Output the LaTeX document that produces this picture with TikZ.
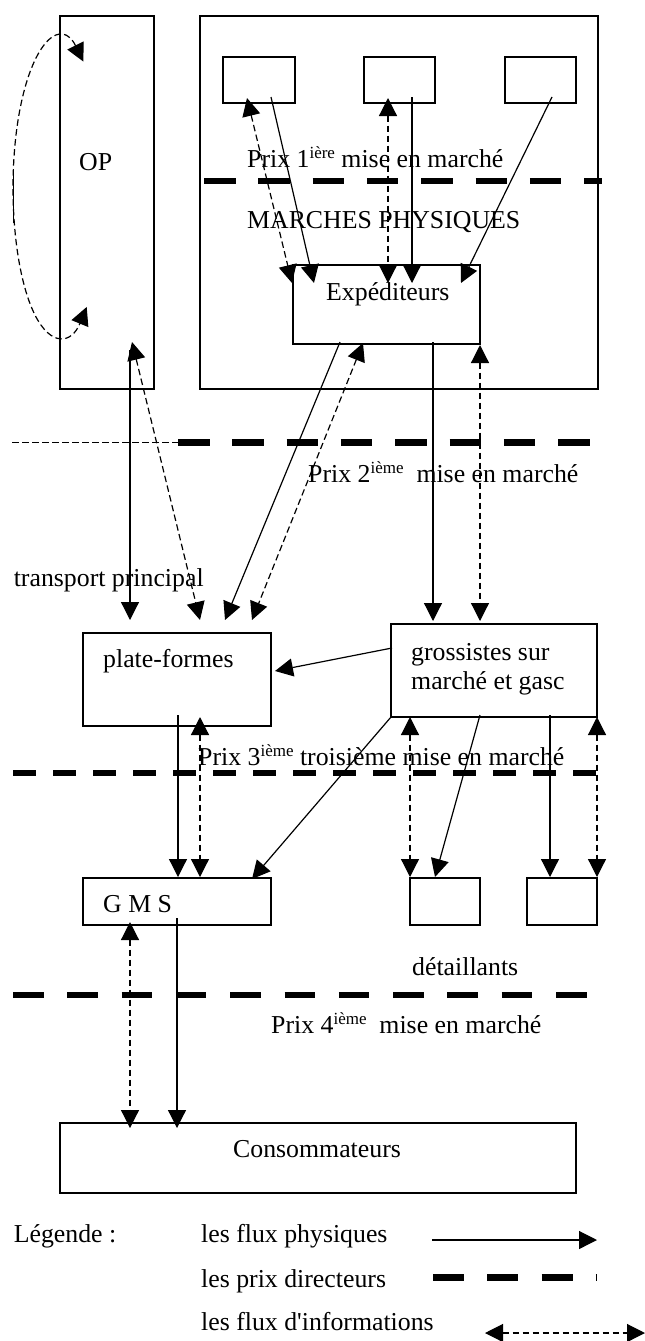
\documentclass[tikz,border=0pt]{standalone}
\usepackage{fontspec}
\setmainfont{Liberation Serif}
\usetikzlibrary{arrows.meta}
\newcommand\expo[1]{\raisebox{9pt}{\fontsize{17pt}{17pt}\selectfont #1}}
\newcommand\straightquote{\XeTeXglyph\XeTeXglyphindex "quotesingle"\relax}
\begin{document}
\begin{tikzpicture}[x=1pt,y=-1pt,
  box/.style={draw, line width=1.4pt, inner sep=0pt, outer sep=0pt},
  txt/.style={font=\fontsize{25.8pt}{30pt}\selectfont, inner sep=0pt, anchor=base west},
  flux/.style={line width=1.2pt, -{Triangle[length=18pt,width=18pt]}},
  info/.style={line width=1.2pt, dash pattern=on 6.5pt off 3.5pt, {Triangle[length=18pt,width=18pt]}-{Triangle[length=18pt,width=18pt]}},
  thinline/.style={line width=1.2pt},
  thindash/.style={line width=1.2pt, dash pattern=on 6.5pt off 3.5pt},
  prix/.style={line width=6.7pt, dash pattern=on 31.5pt off 22.8pt},
]
\useasboundingbox (0,0) rectangle (645,1341);

% boxes
\node[box, minimum width=94pt, minimum height=373pt] (op) at (107,202.5) {};
\node[box, minimum width=398pt, minimum height=373pt] (mkt) at (399,202.5) {};
\node[box, minimum width=72pt, minimum height=46pt] (p1) at (259,80) {};
\node[box, minimum width=71pt, minimum height=46pt] (p2) at (399.5,80) {};
\node[box, minimum width=71pt, minimum height=46pt] (p3) at (540.5,80) {};
\node[box, minimum width=187pt, minimum height=79pt] (exp) at (386.5,304.5) {};
\node[box, minimum width=188pt, minimum height=93pt] (pf) at (177,679.5) {};
\node[box, minimum width=206pt, minimum height=93pt] (gr) at (494,670.5) {};
\node[box, minimum width=188pt, minimum height=47pt] (gms) at (177,901.5) {};
\node[box, minimum width=70pt, minimum height=47pt] (d1) at (445,901.5) {};
\node[box, minimum width=70pt, minimum height=47pt] (d2) at (562,901.5) {};
\node[box, minimum width=516pt, minimum height=70pt] (cons) at (318,1158) {};

% price lines
\coordinate (l1a) at (204,181); \coordinate (l1b) at (602,181);
\draw[prix] (l1a) -- (l1b);
\coordinate (l2a) at (12.4,442.5); \coordinate (l2b) at (178,442.5); \coordinate (l2c) at (590,442.5);
\draw[thindash] (l2a) -- (l2b);
\draw[prix] (l2b) -- (l2c);
\coordinate (l3a) at (13,772.7); \coordinate (l3b) at (597,772.7);
\draw[line width=5.7pt, dash pattern=on 23pt off 17pt] (l3a) -- (l3b);
\coordinate (l4a) at (13,995); \coordinate (l4b) at (590,995);
\draw[prix, dash pattern=on 30.5pt off 23.8pt] (l4a) -- (l4b);

% OP loop
\coordinate (lpA) at (83.4,61.6);
\draw[info] (lpA) arc[start angle=-58, end angle=-307, x radius=46, y radius=149];
\coordinate (lpS1) at (13.3,173); \coordinate (lpS2) at (13.3,223);
\draw[thinline] (lpS1) -- (lpS2);

% small boxes -> expediteurs
\coordinate (a1s) at (247,98);  \coordinate (a1e) at (292,283);
\coordinate (a2s) at (271,97);  \coordinate (a2e) at (314,283);
\coordinate (a3s) at (388,98);  \coordinate (a3e) at (388,283);
\coordinate (a4s) at (412,97);  \coordinate (a4e) at (412,283);
\coordinate (a5s) at (552,97);  \coordinate (a5e) at (461,283);
\draw[info] (a1s) -- (a1e);
\draw[flux] (a2s) -- (a2e);
\draw[info] (a3s) -- (a3e);
\draw[flux] (a4s) -- (a4e);
\draw[flux] (a5s) -- (a5e);

% expediteurs -> down
\coordinate (b1s) at (340,342); \coordinate (b1e) at (225,620);
\coordinate (b2s) at (363,343); \coordinate (b2e) at (252,620);
\coordinate (b3s) at (433,342); \coordinate (b3e) at (433,621);
\coordinate (b4s) at (480,345); \coordinate (b4e) at (480,621);
\draw[flux] (b1s) -- (b1e);
\draw[info] (b2s) -- (b2e);
\draw[flux] (b3s) -- (b3e);
\draw[info] (b4s) -- (b4e);

% OP -> plate-formes
\coordinate (c1s) at (130,350); \coordinate (c1e) at (130,620);
\coordinate (c2s) at (132,342); \coordinate (c2e) at (200,620);
\draw[flux] (c1s) -- (c1e);
\draw[info] (c2s) -- (c2e);

% grossistes -> plate-formes
\coordinate (g1s) at (392,648); \coordinate (g1e) at (275,671);
\draw[flux] (g1s) -- (g1e);

% to GMS and detaillants
\coordinate (d1s) at (178,715); \coordinate (d1e) at (178,877);
\coordinate (d2s) at (200,717); \coordinate (d2e) at (200,877);
\coordinate (d3s) at (391,717); \coordinate (d3e) at (252,879);
\coordinate (d4s) at (410,717); \coordinate (d4e) at (410,877);
\coordinate (d5s) at (480,715); \coordinate (d5e) at (435,877);
\coordinate (d6s) at (550,715); \coordinate (d6e) at (550,877);
\coordinate (d7s) at (597,717); \coordinate (d7e) at (597,877);
\draw[flux] (d1s) -- (d1e);
\draw[info] (d2s) -- (d2e);
\draw[flux] (d3s) -- (d3e);
\draw[info] (d4s) -- (d4e);
\draw[flux] (d5s) -- (d5e);
\draw[flux] (d6s) -- (d6e);
\draw[info] (d7s) -- (d7e);

% GMS -> consommateurs
\coordinate (e1s) at (130,922); \coordinate (e1e) at (130,1128);
\coordinate (e2s) at (177,918); \coordinate (e2e) at (177,1128);
\draw[info] (e1s) -- (e1e);
\draw[flux] (e2s) -- (e2e);

% legend lines
\coordinate (f1s) at (432,1240); \coordinate (f1e) at (597,1240);
\draw[flux] (f1s) -- (f1e);
\coordinate (f2s) at (433,1277.7); \coordinate (f2e) at (597,1277.7);
\draw[prix, dash pattern=on 31pt off 23.3pt] (f2s) -- (f2e);
\coordinate (f3s) at (485,1333); \coordinate (f3e) at (645,1333);
\draw[info] (f3s) -- (f3e);

% texts
\node[txt] (tOP) at (79,170) {OP};
\node[txt] (tP1) at (247,167) {Prix 1\expo{ière} mise en marché};
\node[txt] (tMP) at (247,228) {MARCHES PHYSIQUES};
\node[txt] (tExp) at (326,300) {Expéditeurs};
\node[txt] (tP2) at (308,482) {Prix 2\expo{ième}\ \ mise en marché};
\node[txt] (tTP) at (13.6,586) {transport principal};
\node[txt] (tPF) at (103,667) {plate-formes};
\node[txt] (tGr1) at (411,660) {grossistes sur};
\node[txt] (tGr2) at (411,689) {marché et gasc};
\node[txt] (tP3) at (198,765) {Prix 3\expo{ième} troisième mise en marché};
\node[txt] (tGMS) at (103,912) {G M S};
\node[txt] (tDet) at (412,975) {détaillants};
\node[txt] (tP4) at (271,1033) {Prix 4\expo{ième}\ \ mise en marché};
\node[txt] (tCons) at (233,1157) {Consommateurs};
\node[txt] (tLeg) at (13.6,1242) {Légende :};
\node[txt] (tL1) at (201,1242) {les flux physiques};
\node[txt] (tL2) at (201,1287) {les prix directeurs};
\node[txt] (tL3) at (201,1330) {les flux d\straightquote informations};
\end{tikzpicture}
\end{document}
